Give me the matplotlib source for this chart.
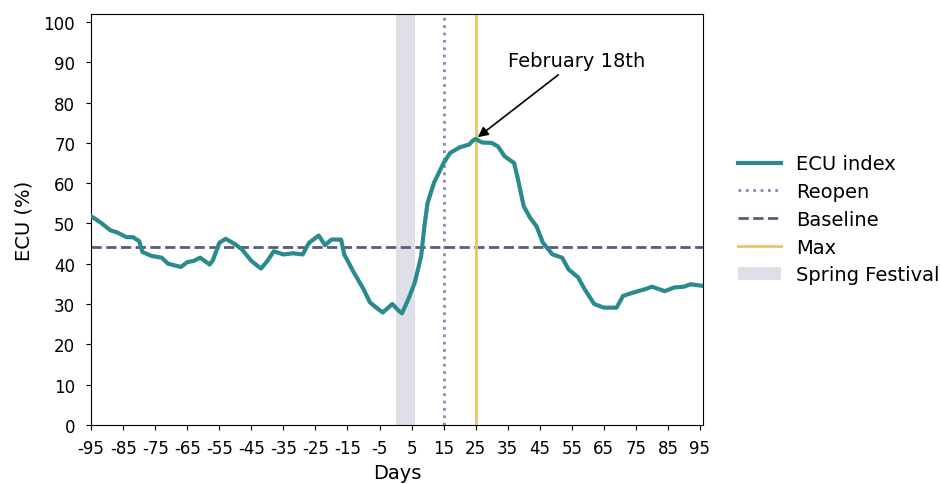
import matplotlib
matplotlib.use("Agg")
import matplotlib.pyplot as plt
import numpy as np

plt.rcParams['axes.unicode_minus'] = False
plt.rcParams['font.size'] = 14

# ECU index
days = [-95, -92, -89, -87, -84, -82, -80, -79, -76, -73, -71, -67, -65, -63,
        -61, -58, -57, -55, -53, -50, -48, -45, -42, -40, -38, -35, -32, -29,
        -27, -24, -22, -20, -17, -16, -13, -10, -8, -6, -4, -1, 1, 2, 4, 6,
        8, 9, 10, 12, 15, 17, 20, 23, 24, 25, 27, 30, 32, 34, 37, 38, 40, 42,
        44, 46, 49, 52, 54, 57, 59, 62, 65, 69, 71, 74, 78, 80, 84, 87, 90,
        92, 96]
ecu = [51.8, 50.2, 48.3, 47.8, 46.6, 46.6, 45.6, 42.9, 41.9, 41.5, 40.0, 39.2,
       40.4, 40.7, 41.5, 39.8, 40.9, 45.2, 46.2, 44.8, 43.6, 40.7, 38.8, 40.7,
       43.1, 42.3, 42.6, 42.3, 45.2, 47.0, 44.6, 46.0, 46.0, 42.3, 37.8, 33.7,
       30.4, 29.1, 27.9, 30.0, 28.3, 27.7, 31.2, 35.3, 41.9, 49.3, 55.1, 60.1,
       65.0, 67.5, 68.9, 69.6, 70.5, 71.0, 70.1, 70.0, 69.1, 66.7, 65.0, 61.7,
       54.3, 51.4, 49.3, 45.2, 42.3, 41.5, 38.6, 36.6, 33.7, 30.0, 29.1, 29.1,
       32.0, 32.8, 33.7, 34.3, 33.2, 34.1, 34.3, 34.9, 34.5]

reopen_day = 15
max_day = 25
baseline = 44.2
festival = (0, 6)

fig = plt.figure(figsize=(9.4, 4.85), dpi=100)
ax = fig.add_axes([0.097, 0.122, 0.651, 0.847])

ax.plot(days, ecu, color='#2a8a8e', lw=3, label='ECU index', zorder=3)
ax.axvline(reopen_day, color='#8a8ab0', lw=2, ls=':', label='Reopen')
ax.axhline(baseline, color='#5b5b7b', lw=2, ls='--', label='Baseline')
ax.axvline(max_day, color='#e8c46a', lw=2, label='Max')
ax.axvspan(festival[0], festival[1], color='#dfdfe7', lw=0, label='Spring Festival')

ax.annotate('February 18th', xy=(max_day, 71.0), xytext=(35, 89),
            arrowprops=dict(arrowstyle='-|>', color='black', lw=1.2,
                            mutation_scale=15))

ax.set_xlim(-95, 96)
ax.set_ylim(0, 102)
ax.set_xticks(np.arange(-95, 96, 10))
ax.set_yticks(np.arange(0, 101, 10))
ax.tick_params(axis='x', labelsize=12, pad=7)
ax.tick_params(axis='y', labelsize=12, pad=8)
ax.set_xlabel('Days', labelpad=4)
ax.set_ylabel('ECU (%)', labelpad=7)

ax.legend(loc='center left', bbox_to_anchor=(1.028, 0.5), frameon=False,
          handlelength=2.2, labelspacing=0.45)

plt.savefig('out.png', dpi=100)
